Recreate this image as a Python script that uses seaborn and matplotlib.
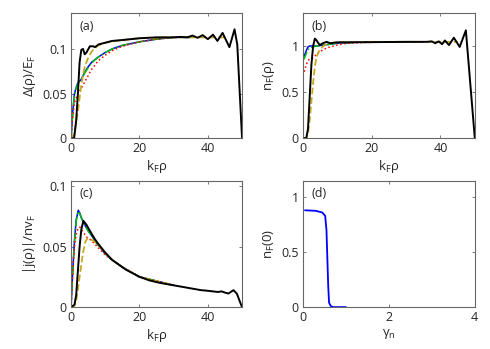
import matplotlib
matplotlib.use("Agg")
import matplotlib.pyplot as plt
import seaborn as sns

sns.set_style("white")
plt.rcParams['font.family'] = ['Open Sans', 'DejaVu Sans']
plt.rcParams['mathtext.fontset'] = 'dejavusans'

# ---- panel (a): gap profile ----
a_black_x = [0, 0.9, 1.5, 2.0, 2.5, 3.0, 3.5, 4.0, 4.5, 5.5, 6.5, 7.0, 8, 9, 10, 12, 15, 20, 25,
             30, 32, 34, 35.5, 37, 38.5, 40, 41.5, 42.8, 44.3, 46.3, 47.8, 48.6, 50]
a_black_y = [0, 0, 0.02, 0.05, 0.085, 0.099, 0.1, 0.094, 0.096, 0.103, 0.103, 0.102, 0.105, 0.106,
             0.107, 0.109, 0.11, 0.112, 0.113, 0.113, 0.1135, 0.113, 0.115, 0.1125, 0.1155, 0.111,
             0.116, 0.109, 0.118, 0.102, 0.122, 0.105, 0.0]
a_blue_x = [0, 0.5, 1, 1.5, 2, 3, 4, 5, 6, 7, 8, 10, 12, 15, 20, 25, 30, 35]
a_blue_y = [0, 0.03, 0.05, 0.057, 0.062, 0.066, 0.074, 0.08, 0.085, 0.088, 0.091, 0.096, 0.1,
            0.104, 0.108, 0.111, 0.113, 0.113]
a_green_y = [0, 0.028, 0.048, 0.056, 0.061, 0.066, 0.073, 0.079, 0.084, 0.088, 0.091, 0.096, 0.1,
             0.104, 0.108, 0.111, 0.113, 0.113]
a_red_x = [0, 0.5, 1, 2, 3, 4, 5, 6, 7, 8, 10, 12, 15, 20, 25, 30, 35]
a_red_y = [0, 0.025, 0.04, 0.05, 0.056, 0.063, 0.07, 0.077, 0.082, 0.087, 0.093, 0.098, 0.103,
           0.108, 0.111, 0.113, 0.113]
a_olive_x = [0, 1, 2, 3, 4, 5, 6, 7, 8, 10, 15, 20, 30, 40, 45]
a_olive_y = [0, 0.005, 0.03, 0.06, 0.08, 0.09, 0.097, 0.101, 0.104, 0.107, 0.11, 0.112, 0.113,
             0.113, 0.113]

# ---- panel (b): density profile ----
b_black_x = [0, 1, 1.5, 2, 2.5, 3, 3.5, 4, 4.9, 5.8, 6.9, 8, 10, 15, 30, 36, 37.5, 38.5, 39.5,
             40.5, 41.3, 42.5, 43.9, 45.6, 47.4, 50]
b_black_y = [0, 0, 0.1, 0.45, 0.8, 1.0, 1.08, 1.06, 1.01, 1.03, 1.045, 1.03, 1.04, 1.04, 1.045,
             1.045, 1.05, 1.03, 1.05, 1.02, 1.06, 1.01, 1.09, 0.99, 1.17, 0]
b_blue_x = [0, 0.5, 1, 1.5, 2, 3, 4, 6, 8, 10, 15, 20, 35]
b_blue_y = [0.87, 0.9, 0.95, 0.99, 1.0, 1.0, 1.0, 1.01, 1.02, 1.03, 1.04, 1.045, 1.045]
b_green_x = [0, 0.5, 1, 1.5, 2, 3, 4, 6, 8, 10, 15, 20, 35]
b_green_y = [0.84, 0.87, 0.92, 0.96, 0.98, 0.99, 1.0, 1.01, 1.02, 1.03, 1.04, 1.045, 1.045]
b_red_x = [0, 0.5, 1, 1.5, 2, 3, 4, 5, 6, 7, 8, 10, 12, 15, 20, 35]
b_red_y = [0.68, 0.73, 0.8, 0.84, 0.86, 0.87, 0.91, 0.94, 0.96, 0.98, 0.99, 1.01, 1.025, 1.035,
           1.04, 1.045]
b_olive_x = [0, 1, 1.5, 2, 2.5, 3, 3.5, 4, 4.5, 5, 6, 7, 8, 10, 20, 45]
b_olive_y = [0, 0, 0.05, 0.2, 0.4, 0.6, 0.78, 0.88, 0.93, 0.96, 1.0, 1.02, 1.03, 1.04, 1.045, 1.045]

# ---- panel (c): current profile ----
c_black_x = [0, 1, 1.5, 2, 2.5, 3, 3.6, 4.5, 5.5, 7, 8, 10, 12, 14, 16, 18, 20, 23, 26, 30, 34,
             38, 40, 42, 43, 44, 45, 46, 47.5, 48.5, 49.3, 50]
c_black_y = [0, 0.002, 0.01, 0.03, 0.05, 0.064, 0.0712, 0.068, 0.063, 0.056, 0.052, 0.045, 0.039,
             0.035, 0.031, 0.028, 0.025, 0.022, 0.02, 0.018, 0.016, 0.014, 0.0135, 0.0128, 0.0125,
             0.013, 0.012, 0.0112, 0.014, 0.011, 0.005, 0]
c_blue_x = [0, 0.5, 1, 1.5, 2.1, 2.5, 3, 4, 5, 6, 7, 8, 10, 12, 15, 20, 30]
c_blue_y = [0, 0.03, 0.055, 0.072, 0.08, 0.078, 0.074, 0.068, 0.063, 0.059, 0.055, 0.051, 0.044,
            0.039, 0.033, 0.025, 0.018]
c_green_y = [0, 0.029, 0.054, 0.071, 0.079, 0.0775, 0.0735, 0.068, 0.063, 0.059, 0.055, 0.051,
             0.044, 0.039, 0.033, 0.025, 0.018]
c_red_x = [0, 0.5, 1, 1.5, 2, 2.6, 3.5, 4.5, 5.5, 7, 8, 10, 12, 15, 20, 30]
c_red_y = [0, 0.03, 0.05, 0.06, 0.065, 0.066, 0.062, 0.058, 0.056, 0.052, 0.049, 0.043, 0.039,
           0.033, 0.025, 0.018]
c_olive_x = [0, 1, 1.5, 2, 2.5, 3, 3.5, 4.2, 4.8, 5.5, 6.5, 8, 10, 12, 15, 20, 30]
c_olive_y = [0, 0.001, 0.005, 0.015, 0.025, 0.035, 0.045, 0.054, 0.057, 0.056, 0.055, 0.051,
             0.045, 0.039, 0.033, 0.025, 0.018]

# ---- panel (d): central density vs gamma_n ----
d_x = [0.05, 0.3, 0.45, 0.52, 0.55, 0.57, 0.59, 0.61, 0.65, 0.7, 1.0]
d_y = [0.88, 0.875, 0.86, 0.83, 0.7, 0.45, 0.2, 0.04, 0.01, 0.0, 0.0]

OLIVE = (0.78, 0.66, 0.12)
GREEN = (0.0, 0.75, 0.0)

fig = plt.figure(figsize=(4.9, 3.49), dpi=100)
ax_a = fig.add_axes([0.145, 0.604, 0.349, 0.358])
ax_b = fig.add_axes([0.618, 0.604, 0.351, 0.358])
ax_c = fig.add_axes([0.145, 0.120, 0.349, 0.361])
ax_d = fig.add_axes([0.618, 0.120, 0.351, 0.361])


def draw_profiles(ax, blue, green, red, olive, black):
    sns.lineplot(x=blue[0], y=blue[1], ax=ax, color="blue", lw=1.1)
    sns.lineplot(x=green[0], y=green[1], ax=ax, color=GREEN, lw=1.1, linestyle="-.")
    sns.lineplot(x=red[0], y=red[1], ax=ax, color="red", lw=1.1, linestyle=":")
    sns.lineplot(x=olive[0], y=olive[1], ax=ax, color=OLIVE, lw=1.3, linestyle="--")
    sns.lineplot(x=black[0], y=black[1], ax=ax, color="black", lw=1.4)


draw_profiles(ax_a, (a_blue_x, a_blue_y), (a_blue_x, a_green_y), (a_red_x, a_red_y),
              (a_olive_x, a_olive_y), (a_black_x, a_black_y))
draw_profiles(ax_b, (b_blue_x, b_blue_y), (b_green_x, b_green_y), (b_red_x, b_red_y),
              (b_olive_x, b_olive_y), (b_black_x, b_black_y))
draw_profiles(ax_c, (c_blue_x, c_blue_y), (c_blue_x, c_green_y), (c_red_x, c_red_y),
              (c_olive_x, c_olive_y), (c_black_x, c_black_y))
sns.lineplot(x=d_x, y=d_y, ax=ax_d, color="blue", lw=1.3)

kf = r"k$_\mathregular{F}$ρ"
ax_a.set(xlim=(0, 50), ylim=(0, 0.14), xticks=[0, 20, 40], yticks=[0, 0.05, 0.1])
ax_a.set_yticklabels(["0", "0.05", "0.1"])
ax_a.set_xlabel(kf)
ax_a.set_ylabel(r"Δ(ρ)/E$_\mathregular{F}$")

ax_b.set(xlim=(0, 50), ylim=(0, 1.355), xticks=[0, 20, 40], yticks=[0, 0.5, 1])
ax_b.set_yticklabels(["0", "0.5", "1"])
ax_b.set_xlabel(kf)
ax_b.set_ylabel(r"n$_\mathregular{F}$(ρ)")

ax_c.set(xlim=(0, 50), ylim=(0, 0.104), xticks=[0, 20, 40], yticks=[0, 0.05, 0.1])
ax_c.set_yticklabels(["0", "0.05", "0.1"])
ax_c.set_xlabel(kf)
ax_c.set_ylabel(r"|j(ρ)|/nv$_\mathregular{F}$")

ax_d.set(xlim=(0, 4), ylim=(0, 1.145), xticks=[0, 2, 4], yticks=[0, 0.5, 1])
ax_d.set_yticklabels(["0", "0.5", "1"])
ax_d.set_xlabel(r"γ$_\mathregular{n}$")
ax_d.set_ylabel(r"n$_\mathregular{F}$(0)")

for ax, tag in zip([ax_a, ax_b, ax_c, ax_d], ["(a)", "(b)", "(c)", "(d)"]):
    ax.text(0.05, 0.95, tag, transform=ax.transAxes, ha="left", va="top",
            fontsize=9, color="#262626")
    for s in ax.spines.values():
        s.set_color("#666666")
        s.set_linewidth(0.8)
    ax.tick_params(direction="in", length=2.5, width=0.6, color="#666666",
                   labelsize=9, labelcolor="#262626", top=True, right=True,
                   bottom=True, left=True, pad=3)
    ax.xaxis.label.set_size(9.5)
    ax.yaxis.label.set_size(9.5)
    ax.xaxis.label.set_color("#262626")
    ax.yaxis.label.set_color("#262626")
    ax.xaxis.labelpad = 2
    ax.yaxis.labelpad = 3

fig.savefig("out.png", dpi=100)
